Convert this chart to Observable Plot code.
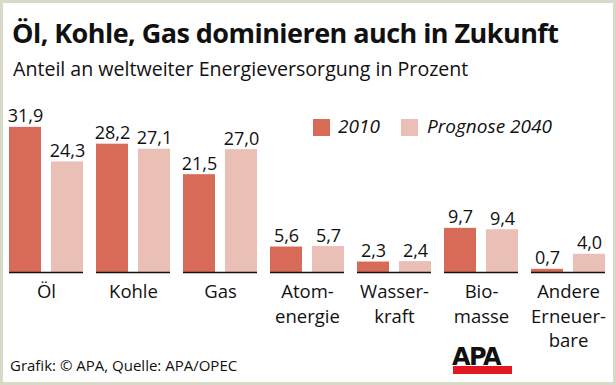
<!DOCTYPE html>
<html><head><meta charset="utf-8">
<script src="https://cdn.jsdelivr.net/npm/d3@7"></script>
<script src="https://cdn.jsdelivr.net/npm/@observablehq/plot@0.6"></script>
<style>
body{margin:0;background:#fff;}
#root{position:relative;width:616px;height:385px;overflow:hidden;font-family:"Open Sans",sans-serif;color:#111;background:#fff}
#frame{position:absolute;left:0;top:0;width:616px;height:385px;box-sizing:border-box;border:3px solid #d9d9c8;pointer-events:none}
.t{position:absolute;white-space:nowrap;line-height:1}
#chart{position:absolute;left:0;top:0}
.sw{position:absolute;width:17px;height:17px}
</style></head><body><div id="root">
<div id="chart"></div>
<div class="t" style="left:12px;top:19px;font-size:27px;font-weight:700;letter-spacing:-0.55px">Öl, Kohle, Gas dominieren auch in Zukunft</div>
<div class="t" style="left:13px;top:59px;font-size:19.6px;">Anteil an weltweiter Energieversorgung in Prozent</div>
<div class="sw" id="sw1" style="left:313px;top:119px"></div>
<div class="t" style="left:338px;top:117px;font-size:19px;font-style:italic">2010</div>
<div class="sw" id="sw2" style="left:401px;top:119px"></div>
<div class="t" style="left:427px;top:117px;font-size:19px;font-style:italic">Prognose 2040</div>
<div class="t" style="left:10px;top:358px;font-size:15px;">Grafik: © APA, Quelle: APA/OPEC</div>
<div class="t" style="left:452px;top:345px;font-family:'DejaVu Sans',sans-serif;font-size:24px;font-weight:900;letter-spacing:-1.5px;">APA</div>
<div style="position:absolute;left:453px;top:366px;width:59px;height:8px;background:#e2171f"></div>
<div id="frame"></div>
</div>
<script>
const categories = ["Öl","Kohle","Gas","Atomenergie","Wasserkraft","Biomasse","Andere Erneuerbare"];
const catLabels = ["Öl","Kohle","Gas","Atom-\nenergie","Wasser-\nkraft","Bio-\nmasse","Andere\nErneuer-\nbare"];
const series = ["2010","Prognose 2040"];
const values2010 = [31.9,28.2,21.5,5.6,2.3,9.7,0.7];
const values2040 = [24.3,27.1,27.0,5.7,2.4,9.4,4.0];
const colors = ["#d76b57","#eac0b6"];

document.getElementById("sw1").style.background = colors[0];
document.getElementById("sw2").style.background = colors[1];

const data = categories.flatMap((c,i)=>[
  {cat:c, series:series[0], value:values2010[i]},
  {cat:c, series:series[1], value:values2040[i]}
]);
const fmt = v => d3.format(".1f")(v).replace(".", ",");

const chart = Plot.plot({
  width:616, height:385, marginTop:90, marginBottom:113, marginLeft:9, marginRight:11,
  style:{fontFamily:'"Open Sans",sans-serif', color:"#111", background:"transparent", overflow:"visible"},
  fx:{domain:categories, paddingInner:0.15, paddingOuter:0, axis:null, label:null},
  x:{domain:series, paddingInner:0.24, paddingOuter:0, axis:null},
  y:{domain:[0,40], axis:null},
  color:{domain:series, range:colors},
  marks:[
    Plot.barY(data,{fx:"cat", x:"series", y:"value", fill:"series"}),
    Plot.ruleY([0],{stroke:"#111", strokeWidth:1.5}),
    Plot.text(data,{fx:"cat", x:"series", y:"value", text:d=>fmt(d.value), lineAnchor:"bottom", dy:-5, fontSize:18}),
    Plot.text(categories,{fx:d=>d, text:(d,i)=>catLabels[i], frameAnchor:"bottom", lineAnchor:"top", dy:8, fontSize:18.5, lineHeight:1.33})
  ]
});
document.getElementById("chart").appendChild(chart);
</script>
</body></html>
